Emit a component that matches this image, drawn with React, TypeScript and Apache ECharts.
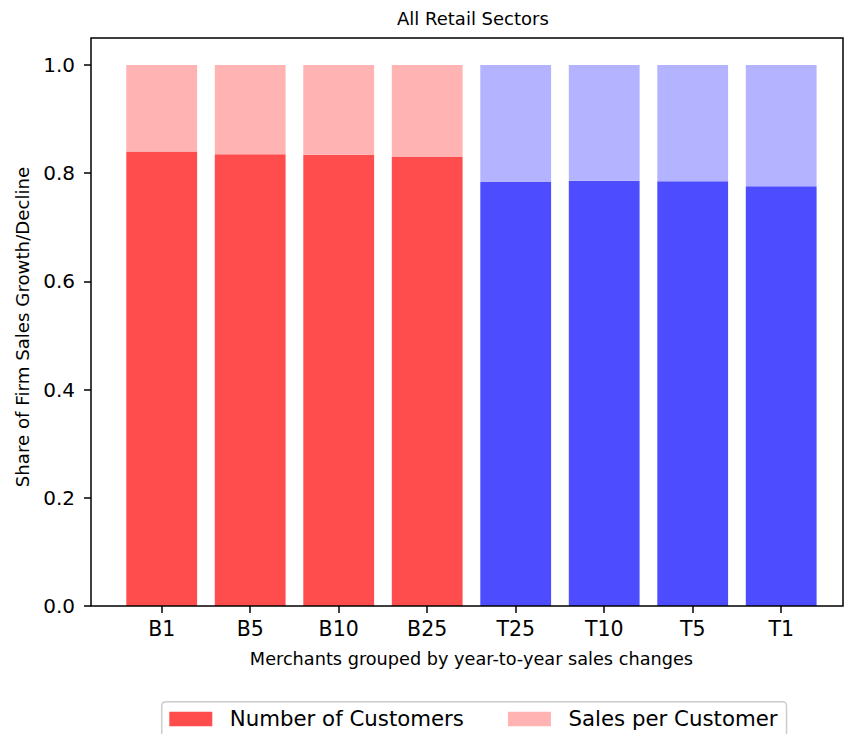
import React, { useEffect, useRef } from "react";
import * as echarts from "echarts";

// Merchant groups, from the largest decliners (B) to the largest growers (T)
const categories = ["B1", "B5", "B10", "B25", "T25", "T10", "T5", "T1"];
// Share of sales growth/decline explained by the number of customers
const customersShare = [0.84, 0.835, 0.834, 0.83, 0.784, 0.786, 0.785, 0.776];
// Share explained by sales per customer
const salesPerCustomerShare = [0.16, 0.165, 0.166, 0.17, 0.216, 0.214, 0.215, 0.224];
// Y axis tick values
const yTicks = [0, 0.2, 0.4, 0.6, 0.8, 1.0];

const RED = "#ff4d4d";
const RED_LIGHT = "#ffb3b3";
const BLUE = "#4d4dff";
const BLUE_LIGHT = "#b3b3ff";
const FONT = "DejaVu Sans";

const isGrowth = (c: string) => c.startsWith("T");

export default function App() {
  const ref = useRef<HTMLDivElement>(null);

  useEffect(() => {
    if (!ref.current) return;
    const chart = echarts.init(ref.current, null, { renderer: "svg" });

    const plotLeft = 91;
    const plotTop = 38;
    const plotRight = 844;
    const plotBottom = 606;
    // category cells are narrower than the frame (matplotlib-like margins)
    const cell = 88.5;
    const firstCenter = 161.7;
    const catLeft = firstCenter - cell / 2;
    const catRight = catLeft + cell * categories.length;

    chart.setOption({
      animation: false,
      backgroundColor: "#ffffff",
      textStyle: { fontFamily: FONT },
      title: {
        text: "All Retail Sectors",
        left: 397,
        top: 9,
        padding: 0,
        textStyle: { fontFamily: FONT, fontSize: 18, fontWeight: "normal", color: "#000" },
      },
      legend: {
        left: 161.7,
        top: 701.7,
        orient: "horizontal",
        itemWidth: 43,
        itemHeight: 14.5,
        itemGap: 44,
        padding: [5.25, 9, 20, 7.6],
        borderColor: "#cccccc",
        borderWidth: 1.5,
        borderRadius: 4,
        backgroundColor: "#ffffff",
        icon: "rect",
        textStyle: {
          fontFamily: FONT,
          fontSize: 21.3,
          lineHeight: 24,
          color: "#000",
          padding: [0, 0, 0, 12.5],
        },
        data: ["Number of Customers", "Sales per Customer"],
      },
      grid: {
        left: catLeft,
        right: 844 - catRight,
        top: plotTop,
        bottom: 734 - plotBottom,
        containLabel: false,
      },
      xAxis: {
        type: "category",
        data: categories,
        boundaryGap: true,
        axisLine: { show: false },
        axisTick: {
          show: true,
          alignWithLabel: true,
          length: 7,
          lineStyle: { color: "#000", width: 1.5 },
        },
        axisLabel: { fontFamily: FONT, fontSize: 20.5, color: "#000", margin: 12 },
        name: "Merchants grouped by year-to-year sales changes",
        nameLocation: "middle",
        nameGap: 44,
        nameTextStyle: { fontFamily: FONT, fontSize: 17.7, color: "#000" },
      },
      yAxis: {
        type: "value",
        min: 0,
        max: 1.05,
        offset: catLeft - plotLeft,
        axisLine: { show: false },
        splitLine: { show: false },
        axisTick: {
          show: true,
          length: 7,
          customValues: yTicks,
          lineStyle: { color: "#000", width: 1.5 },
        },
        axisLabel: {
          fontFamily: FONT,
          fontSize: 20,
          color: "#000",
          margin: 16,
          customValues: yTicks,
          formatter: (v: number) => v.toFixed(1),
        },
        name: "Share of Firm Sales Growth/Decline",
        nameLocation: "middle",
        nameGap: 60,
        nameRotate: 90,
        nameTextStyle: { fontFamily: FONT, fontSize: 18.2, color: "#000", padding: [0, 10, 0, 0] },
      },
      series: [
        {
          name: "Number of Customers",
          type: "bar",
          stack: "share",
          barWidth: "80%",
          itemStyle: { color: RED },
          data: customersShare.map((v, i) => ({
            value: v,
            itemStyle: { color: isGrowth(categories[i]) ? BLUE : RED },
          })),
        },
        {
          name: "Sales per Customer",
          type: "bar",
          stack: "share",
          barWidth: "80%",
          itemStyle: { color: RED_LIGHT },
          data: salesPerCustomerShare.map((v, i) => ({
            value: v,
            itemStyle: { color: isGrowth(categories[i]) ? BLUE_LIGHT : RED_LIGHT },
          })),
        },
      ],
      graphic: [
        {
          type: "rect",
          silent: true,
          z: 100,
          shape: {
            x: plotLeft,
            y: plotTop,
            width: plotRight - plotLeft - 1,
            height: plotBottom - plotTop,
          },
          style: { fill: "none", stroke: "#000", lineWidth: 1.5 },
        },
      ],
    });

    return () => chart.dispose();
  }, []);

  return (
    <div
      ref={ref}
      style={{ position: "absolute", left: 0, top: 0, width: 844, height: 734 }}
    />
  );
}
